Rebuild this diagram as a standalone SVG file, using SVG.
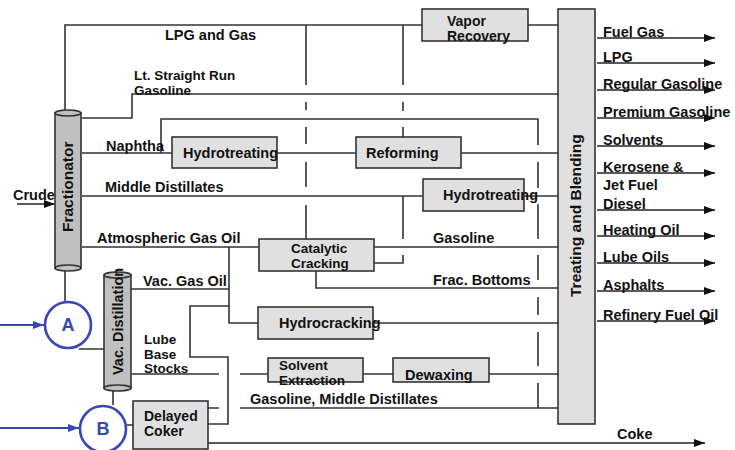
<svg xmlns="http://www.w3.org/2000/svg" width="735" height="450" viewBox="0 0 735 450">
<style>
text{font-family:"Liberation Sans",Arial,sans-serif;font-weight:bold;font-size:14.5px;fill:#111}
.sm{font-size:14px}
.xs{font-size:13.5px}
.box{fill:#e0e0e0;stroke:#333;stroke-width:1.6}
.col{fill:#c0c0c0;stroke:#333;stroke-width:1.6}
.ln{fill:none;stroke:#333;stroke-width:1.6}
.out{fill:none;stroke:#222;stroke-width:1.6;marker-end:url(#ah)}
.blue{fill:none;stroke:#3747b5;stroke-width:2.2;marker-end:url(#bah)}
.rot{font-size:15.5px}
.circ{fill:#fff;stroke:#3747b5;stroke-width:2.6}
.ctext{fill:#3747b5;font-size:18px}
</style>
<defs>
<marker id="ah" markerUnits="userSpaceOnUse" markerWidth="12" markerHeight="10" refX="11" refY="4" orient="auto"><path d="M0,0 L11,4 L0,8 Z" fill="#111"/></marker>
<marker id="bah" markerUnits="userSpaceOnUse" markerWidth="12" markerHeight="10" refX="11" refY="4" orient="auto"><path d="M0,0 L11,4 L0,8 Z" fill="#3747b5"/></marker>
</defs>
<rect width="735" height="450" fill="#fff"/>
<g id="connectors">
<path class="ln" d="M65,113 V25 H422 M528,25 H558"/>
<path class="ln" d="M306,25 V85 M306,102 V110 M306,127 V144 M306,162 V187 M306,205 V239"/>
<path class="ln" d="M403,25 V85 M403,102 V111 M403,127 V137"/>
<path class="ln" d="M82,118 H132 V94 H558"/>
<path class="ln" d="M82,153 H172 M161,153 V119 H538 V145 M538,162 V188 M538,204 V239 M538,255 V280 M538,297 V315 M538,332 V366 M538,383 V408"/>
<path class="ln" d="M277,153 H356 M461,153 H558"/>
<path class="ln" d="M82,196 H423 M524,196 H558"/>
<path class="ln" d="M374,263 H403 V255 M403,239 V196"/>
<path class="ln" d="M82,247 H259 M229,247 V323 H258 M374,247 H558"/>
<path class="ln" d="M316,271 V288 H558"/>
<path class="ln" d="M131,289 H229"/>
<path class="ln" d="M373,323 H558"/>
<path class="ln" d="M208,424 H228 V357 H190 V306 H229"/>
<path class="ln" d="M131,374 H219 M240,374 H268 M363,374 H393 M489,374 H558"/>
<path class="ln" d="M208,408 H219 M240,408 H558"/>
<path class="out" d="M208,443 H705"/>
<path class="out" d="M17,204 H55"/>
<path class="ln" d="M65,268 V301 M79,349 H104 M113,389 V405 M127,425 H133"/>
<path class="blue" d="M0,325 H44"/>
<path class="blue" d="M0,428 H79"/>
<path class="out" d="M597,38 H715"/>
<path class="out" d="M597,63 H715"/>
<path class="out" d="M597,90 H715"/>
<path class="out" d="M597,118 H715"/>
<path class="out" d="M597,146 H715"/>
<path class="out" d="M597,173 H715"/>
<path class="out" d="M597,210 H715"/>
<path class="out" d="M597,236 H715"/>
<path class="out" d="M597,263 H715"/>
<path class="out" d="M597,291 H715"/>
<path class="out" d="M597,321 H715"/>
</g>
<g id="labels">
<text x="13" y="200">Crude</text>
<text x="165" y="40">LPG and Gas</text>
<text class="xs" x="134" y="80">Lt. Straight Run</text>
<text class="xs" x="134" y="95">Gasoline</text>
<text x="106" y="151">Naphtha</text>
<text x="105" y="192">Middle Distillates</text>
<text x="97" y="243">Atmospheric Gas Oil</text>
<text x="143" y="286">Vac. Gas Oil</text>
<text class="xs" x="144" y="344">Lube</text>
<text class="xs" x="144" y="358.5">Base</text>
<text class="xs" x="144" y="373">Stocks</text>
<text x="433" y="243">Gasoline</text>
<text x="433" y="285">Frac. Bottoms</text>
<text x="250" y="404">Gasoline, Middle Distillates</text>
<text x="617" y="439">Coke</text>
<text x="603" y="37">Fuel Gas</text>
<text x="603" y="62">LPG</text>
<text x="603" y="89">Regular Gasoline</text>
<text x="603" y="117">Premium Gasoline</text>
<text x="603" y="145">Solvents</text>
<text x="603" y="172">Kerosene &amp;</text>
<text x="603" y="190">Jet Fuel</text>
<text x="603" y="209">Diesel</text>
<text x="603" y="235">Heating Oil</text>
<text x="603" y="262">Lube Oils</text>
<text x="603" y="290">Asphalts</text>
<text x="603" y="320">Refinery Fuel Oil</text>
</g>
<g id="fractionator">
<rect class="col" x="55" y="113" width="26" height="155"/>
<ellipse class="col" cx="68" cy="113" rx="13" ry="3"/>
<ellipse class="col" cx="68" cy="268" rx="13" ry="3"/>
<text class="rot" transform="translate(73,232) rotate(-90)">Fractionator</text>
</g>
<g id="vac-distillation">
<rect class="col" x="104" y="275" width="27" height="113"/>
<ellipse class="col" cx="117.5" cy="275" rx="13.5" ry="3"/>
<ellipse class="col" cx="117.5" cy="388" rx="13.5" ry="3"/>
<text transform="translate(123,375) rotate(-90)">Vac. Distillation</text>
</g>
<g id="vapor-recovery">
<rect class="box" x="422" y="9" width="106" height="32"/>
<text class="sm" x="447" y="26">Vapor</text>
<text class="sm" x="447" y="40.5">Recovery</text>
</g>
<g id="treating-blending">
<rect class="box" x="558" y="9" width="37" height="415"/>
<text class="rot" transform="translate(581,297) rotate(-90)">Treating and Blending</text>
</g>
<g id="hydrotreating-1">
<rect class="box" x="172" y="137" width="105" height="31"/>
<text x="183" y="158">Hydrotreating</text>
</g>
<g id="reforming">
<rect class="box" x="356" y="137" width="105" height="31"/>
<text x="366" y="158">Reforming</text>
</g>
<g id="hydrotreating-2">
<rect class="box" x="423" y="179" width="101" height="32"/>
<text x="443" y="200">Hydrotreating</text>
</g>
<g id="catalytic-cracking">
<rect class="box" x="259" y="239" width="115" height="32"/>
<text class="xs" x="291" y="253">Catalytic</text>
<text class="xs" x="291" y="268">Cracking</text>
</g>
<g id="hydrocracking">
<rect class="box" x="258" y="307" width="115" height="32"/>
<text x="279" y="328">Hydrocracking</text>
</g>
<g id="solvent-extraction">
<rect class="box" x="268" y="358" width="95" height="24"/>
<text class="xs" x="279" y="370">Solvent</text>
<text class="xs" x="279" y="385">Extraction</text>
</g>
<g id="dewaxing">
<rect class="box" x="393" y="358" width="96" height="24"/>
<text x="405" y="380">Dewaxing</text>
</g>
<g id="delayed-coker">
<rect class="box" x="133" y="401" width="75" height="48"/>
<text class="sm" x="144" y="421">Delayed</text>
<text class="sm" x="144" y="435.5">Coker</text>
</g>
<g id="circle-a">
<circle class="circ" cx="68" cy="325" r="23"/>
<text class="ctext" x="68" y="331" text-anchor="middle">A</text>
</g>
<g id="circle-b">
<circle class="circ" cx="103" cy="429" r="23"/>
<text class="ctext" x="103" y="435" text-anchor="middle">B</text>
</g>
</svg>
